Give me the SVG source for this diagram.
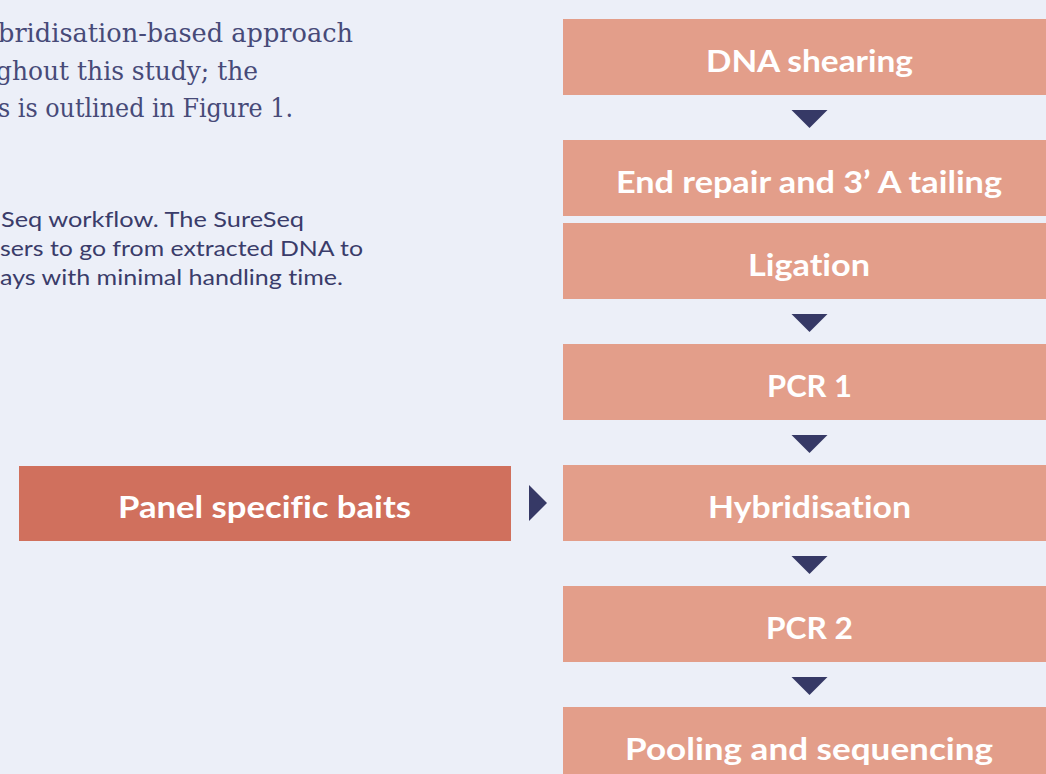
<svg xmlns="http://www.w3.org/2000/svg" width="1046" height="774" viewBox="0 0 1046 774">
  <style>
    .step { fill: #E39E8A; }
    .input { fill: #D0705D; }
    .lbl { font-family: Lato, "Open Sans", "Liberation Sans", sans-serif; font-weight: 700; font-size: 30px; fill: #FFFFFF; text-anchor: middle; font-variant-ligatures: none; }
    .body { font-family: "DejaVu Serif", "Liberation Serif", serif; font-size: 26px; fill: #474A78; text-anchor: end; }
    .cap { font-family: Lato, "Open Sans", "Liberation Sans", sans-serif; font-size: 21px; fill: #3A3C6A; text-anchor: end; font-variant-ligatures: none; }
    .arrow { fill: #363966; }
  </style>
  <rect width="1046" height="774" fill="#ECEFF8"/>

  <g id="body-text">
    <text class="body" x="353" y="42" textLength="355" lengthAdjust="spacingAndGlyphs">bridisation-based approach</text>
    <text class="body" x="258" y="80" textLength="262" lengthAdjust="spacingAndGlyphs">ghout this study; the</text>
    <text class="body" x="293" y="117" textLength="295" lengthAdjust="spacingAndGlyphs">s is outlined in Figure 1.</text>
  </g>
  <g id="caption">
    <text class="cap" x="304" y="227" textLength="303" lengthAdjust="spacingAndGlyphs">Seq workflow. The SureSeq</text>
    <text class="cap" x="363" y="256" textLength="363" lengthAdjust="spacingAndGlyphs">sers to go from extracted DNA to</text>
    <text class="cap" x="343" y="285" textLength="343" lengthAdjust="spacingAndGlyphs">ays with minimal handling time.</text>
  </g>

  <g id="connectors">
    <polygon class="arrow" points="791.5,110 827.5,110 809.5,128"/>
    <polygon class="arrow" points="791.5,314 827.5,314 809.5,332"/>
    <polygon class="arrow" points="791.5,435 827.5,435 809.5,453"/>
    <polygon class="arrow" points="791.5,556 827.5,556 809.5,574"/>
    <polygon class="arrow" points="791.5,677 827.5,677 809.5,695"/>
    <polygon class="arrow" points="529,485 547,503 529,521"/>
  </g>

  <g id="dna-shearing">
    <rect class="step" x="563" y="19" width="492" height="76"/>
    <text class="lbl" x="809.5" y="72" textLength="207" lengthAdjust="spacingAndGlyphs">DNA shearing</text>
  </g>
  <g id="end-repair">
    <rect class="step" x="563" y="140" width="492" height="76"/>
    <text class="lbl" x="809" y="193" textLength="386" lengthAdjust="spacingAndGlyphs">End repair and 3’ A tailing</text>
  </g>
  <g id="ligation">
    <rect class="step" x="563" y="223" width="492" height="76"/>
    <text class="lbl" x="809" y="276" textLength="122" lengthAdjust="spacingAndGlyphs">Ligation</text>
  </g>
  <g id="pcr1">
    <rect class="step" x="563" y="344" width="492" height="76"/>
    <text class="lbl" x="809.5" y="397" textLength="85" lengthAdjust="spacingAndGlyphs">PCR 1</text>
  </g>
  <g id="hybridisation">
    <rect class="step" x="563" y="465" width="492" height="76"/>
    <text class="lbl" x="809.5" y="518" textLength="203" lengthAdjust="spacingAndGlyphs">Hybridisation</text>
  </g>
  <g id="pcr2">
    <rect class="step" x="563" y="586" width="492" height="76"/>
    <text class="lbl" x="809.5" y="639" textLength="87" lengthAdjust="spacingAndGlyphs">PCR 2</text>
  </g>
  <g id="pooling-sequencing">
    <rect class="step" x="563" y="707" width="492" height="76"/>
    <text class="lbl" x="809" y="760" textLength="368" lengthAdjust="spacingAndGlyphs">Pooling and sequencing</text>
  </g>
  <g id="panel-specific-baits">
    <rect class="input" x="19" y="466" width="492" height="75"/>
    <text class="lbl" x="264.5" y="518" textLength="293" lengthAdjust="spacingAndGlyphs">Panel specific baits</text>
  </g>
</svg>
